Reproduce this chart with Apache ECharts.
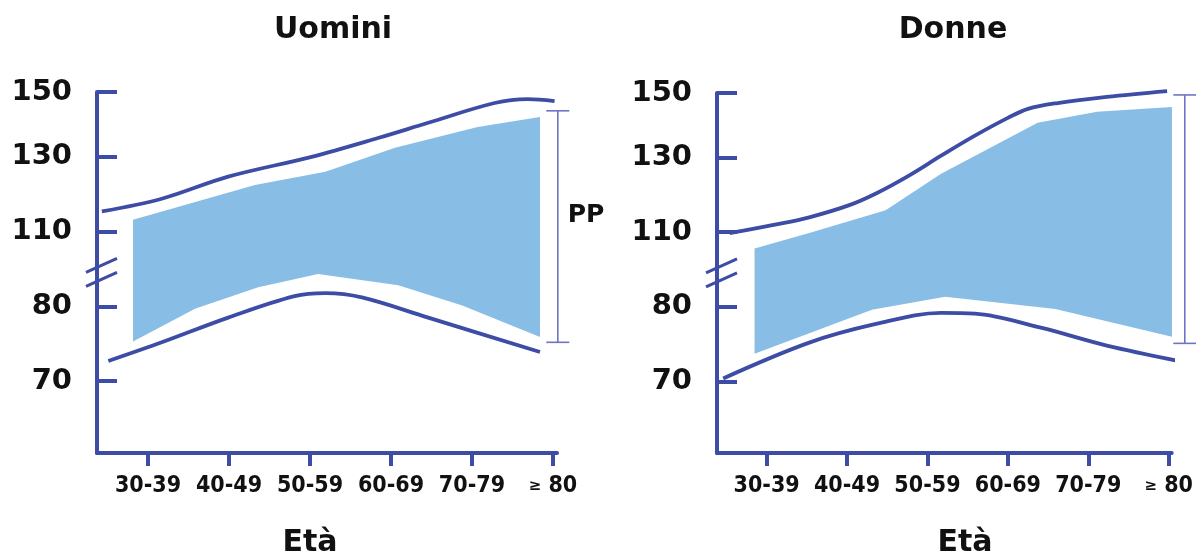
<!DOCTYPE html>
<html><head><meta charset="utf-8">
<script src="https://cdn.jsdelivr.net/npm/echarts@6/dist/echarts.min.js"></script>
<style>html,body{margin:0;padding:0;background:#fff}#c{width:1196px;height:555px}</style>
</head><body><div id="c"></div>
<script>
// ---- data (x in category units: 0 = "30-39" ... 5 = "≥80"; y in mmHg) ----
const categories = ['30-39', '40-49', '50-59', '60-69', '70-79', '≥80'];
const yTickLabels = [70, 80, 110, 130, 150];
const panelTitles = ['Uomini', 'Donne'];
const axisName = 'Età';

// Uomini
const menUpper = [[-0.57,115.4],[0.17,118.8],[0.99,124.7],[2.02,130],[2.84,135.8],[3.46,140.5],[4.28,146.6],[4.69,147.8],[5.02,147.2]];
const menLower = [[-0.49,72.7],[0.17,75.2],[0.99,78.5],[1.81,84.1],[2.19,85.3],[2.64,83.6],[3.46,78.5],[4.84,73.9]];
const menBandTop = [[-0.185,113.2],[1.32,122.5],[2.19,126.0],[3.05,132.8],[4.07,139.2],[4.84,142.3]];
const menBandBottom = [[-0.185,75.3],[0.58,79.7],[1.36,87.7],[2.10,93.0],[3.09,88.5],[3.88,80.4],[4.84,75.9]];
const menPP = [[5.06, 144.2, 75.2]];

// Donne
const womenUpper = [[-0.46,109.6],[0.12,112.1],[0.53,114.0],[1.02,117.2],[1.36,120.4],[1.77,125.2],[2.17,130.6],[2.59,136.8],[3.0,142.3],[3.25,145.1],[3.62,146.9],[4.23,148.8],[4.98,150.6]];
const womenLower = [[-0.54,70.4],[0.53,75.2],[1.36,77.7],[2.17,79.2],[2.59,79.1],[3.41,77.2],[4.23,74.8],[5.28,72.4]];
const womenBandTop = [[-0.15,103.5],[0.53,109.7],[1.48,115.9],[2.17,125.7],[3.37,140.8],[4.11,144.2],[5.04,145.7]];
const womenBandBottom = [[-0.15,73.7],[1.31,79.6],[2.22,84.1],[3.59,79.7],[5.04,76.0]];
const womenPP = [[5.2, 149.4, 75.1]];

// ---- broken-scale mapping (display units of the y axis) ----
const yTickPos = [0, 10, 20, 30, 38.67];
function toAxis(v) {
  const t = yTickLabels, p = yTickPos;
  if (v <= t[0]) return p[0] + (v - t[0]) * (p[1] - p[0]) / (t[1] - t[0]);
  for (let i = 0; i < t.length - 1; i++) {
    if (v <= t[i + 1]) return p[i] + (v - t[i]) * (p[i + 1] - p[i]) / (t[i + 1] - t[i]);
  }
  const n = t.length - 1;
  return p[n] + (v - t[n]) * (p[n] - p[n - 1]) / (t[n] - t[n - 1]);
}
const conv = arr => arr.map(p => [p[0], toAxis(p[1])]);

const DARK = '#3d4ca4', BAND = '#88bde6', BRACKET = '#6d74c4', TXT = '#111';
const FONT = '"DejaVu Sans", Verdana, sans-serif';

const grids = [
  {left: 97, top: 92, width: 460, height: 361},
  {left: 717, top: 93, width: 458, height: 360}
];
const xRanges = [[-0.63, 5.05], [-0.617, 5.037]];
const yMin = -9.6, yMax = 38.67, breakPos = 14.27;

function xAxis(i) {
  return {
    type: 'value', gridIndex: i, min: xRanges[i][0], max: xRanges[i][1],
    splitLine: {show: false},
    axisLine: {show: true, onZero: false, lineStyle: {color: DARK, width: 4}},
    axisTick: {show: true, inside: false, length: 13, lineStyle: {color: DARK, width: 4}, customValues: categories.map((c, k) => k)},
    axisLabel: {
      show: true, margin: 22, customValues: categories.map((c, k) => k),
      fontFamily: '"DejaVu Sans Condensed", "DejaVu Sans", sans-serif', fontWeight: 'bold', fontSize: 23, color: TXT,
      formatter: v => {
        const s = categories[Math.round(v)] || '';
        return s.startsWith('≥') ? '{s|≥} ' + s.slice(1) : s;
      },
      rich: {s: {fontSize: 15, fontWeight: 'bold', fontFamily: '"DejaVu Sans", sans-serif', color: TXT}}
    }
  };
}
function yAxis(i) {
  return {
    type: 'value', gridIndex: i, min: yMin, max: yMax,
    splitLine: {show: false},
    axisLine: {show: true, onZero: false, lineStyle: {color: DARK, width: 4}},
    axisTick: {show: true, inside: true, length: 20, lineStyle: {color: DARK, width: 4}, customValues: yTickPos},
    axisLabel: {
      show: true, margin: 25, customValues: yTickPos,
      fontFamily: FONT, fontWeight: 'bold', fontSize: 29, color: TXT,
      formatter: v => {
        let best = 0;
        yTickPos.forEach((p, k) => { if (Math.abs(p - v) < Math.abs(yTickPos[best] - v)) best = k; });
        return String(yTickLabels[best]);
      }
    }
  };
}
function lineSeries(i, data) {
  return {type: 'line', xAxisIndex: i, yAxisIndex: i, data: conv(data), smooth: 0.35, showSymbol: false,
    symbol: 'none', clip: false, z: 3, lineStyle: {color: DARK, width: 3.8}};
}
function bandSeries(i, top, bottom) {
  return {type: 'custom', xAxisIndex: i, yAxisIndex: i, data: [0], z: 2, clip: false,
    renderItem(params, api) {
      const pts = top.map(p => api.coord([p[0], toAxis(p[1])]))
        .concat(bottom.slice().reverse().map(p => api.coord([p[0], toAxis(p[1])])));
      return {type: 'polygon', shape: {points: pts}, style: {fill: BAND}};
    }};
}
function bracketSeries(i, data) {
  return {type: 'custom', xAxisIndex: i, yAxisIndex: i, data: data, z: 2, clip: false,
    renderItem(params, api) {
      const t = api.coord([api.value(0), toAxis(api.value(1))]);
      const b = api.coord([api.value(0), toAxis(api.value(2))]);
      const st = {stroke: BRACKET, lineWidth: 1.6};
      return {type: 'group', children: [
        {type: 'line', shape: {x1: t[0], y1: t[1], x2: b[0], y2: b[1]}, style: st},
        {type: 'line', shape: {x1: t[0] - 11.5, y1: t[1], x2: t[0] + 11.5, y2: t[1]}, style: st},
        {type: 'line', shape: {x1: b[0] - 11.5, y1: b[1], x2: b[0] + 11.5, y2: b[1]}, style: st}
      ]};
    }};
}
function breakSeries(i) {
  return {type: 'custom', xAxisIndex: i, yAxisIndex: i, data: [0], z: 5, clip: false, silent: true,
    renderItem(params, api) {
      const c = api.coord([xRanges[i][0], breakPos]);
      const st = {stroke: DARK, lineWidth: 3};
      return {type: 'group', children: [-7, 7].map(d => ({
        type: 'line', shape: {x1: c[0] - 11, y1: c[1] + d + 5, x2: c[0] + 20, y2: c[1] + d - 9}, style: st
      }))};
    }};
}

const chart = echarts.init(document.getElementById('c'), null, {renderer: 'canvas'});
chart.setOption({
  animation: false,
  backgroundColor: '#fff',
  grid: grids,
  xAxis: [xAxis(0), xAxis(1)],
  yAxis: [yAxis(0), yAxis(1)],
  series: [
    bandSeries(0, menBandTop, menBandBottom),
    lineSeries(0, menUpper), lineSeries(0, menLower),
    bracketSeries(0, menPP), breakSeries(0),
    bandSeries(1, womenBandTop, womenBandBottom),
    lineSeries(1, womenUpper), lineSeries(1, womenLower),
    bracketSeries(1, womenPP), breakSeries(1)
  ],
  graphic: [
    {type: 'text', x: 333, y: 30, style: {text: panelTitles[0], font: 'bold 30px ' + FONT, fill: TXT, textAlign: 'center', textVerticalAlign: 'middle', verticalAlign: 'middle'}},
    {type: 'text', x: 953, y: 30, style: {text: panelTitles[1], font: 'bold 30px ' + FONT, fill: TXT, textAlign: 'center', textVerticalAlign: 'middle', verticalAlign: 'middle'}},
    {type: 'text', x: 310, y: 543, style: {text: axisName, font: 'bold 30px ' + FONT, fill: TXT, textAlign: 'center', textVerticalAlign: 'middle', verticalAlign: 'middle'}},
    {type: 'text', x: 965, y: 543, style: {text: axisName, font: 'bold 30px ' + FONT, fill: TXT, textAlign: 'center', textVerticalAlign: 'middle', verticalAlign: 'middle'}},
    {type: 'text', x: 586, y: 215, style: {text: 'PP', font: 'bold 25px ' + FONT, fill: TXT, textAlign: 'center', textVerticalAlign: 'middle', verticalAlign: 'middle'}}
  ]
});
</script>
</body></html>
